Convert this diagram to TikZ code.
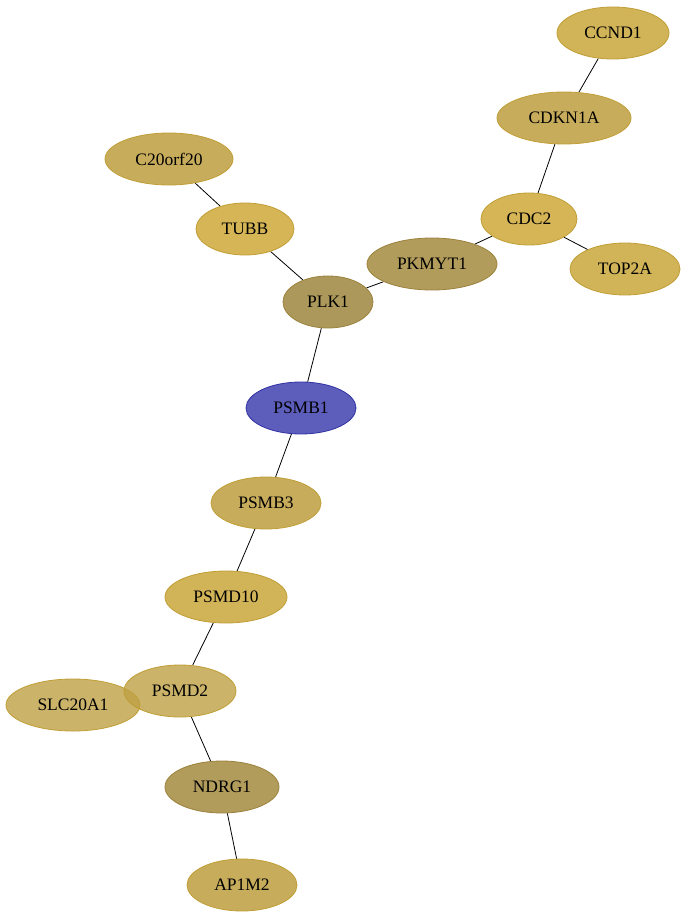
\documentclass[tikz,border=0pt]{standalone}
\usepackage{fontspec}
\setmainfont{Liberation Serif}
\usetikzlibrary{shapes,positioning}
\pgfdeclarelayer{background}
\pgfsetlayers{background,main}
\definecolor{goldA}{RGB}{209,179,88}
\definecolor{goldB}{RGB}{199,172,92}
\definecolor{goldC}{RGB}{213,181,86}
\definecolor{goldD}{RGB}{190,160,68}
\definecolor{oliveA}{RGB}{178,156,92}
\definecolor{oliveB}{RGB}{171,152,90}
\definecolor{goldline}{RGB}{192,158,52}
\definecolor{oliveline}{RGB}{155,130,60}
\definecolor{blueA}{RGB}{93,93,188}
\definecolor{blueline}{RGB}{50,50,165}

\begin{document}
\begin{tikzpicture}[x=1pt, y=-1pt,
        gene/.style = {ellipse, draw=goldline, line width=0.8pt, text opacity=1, inner sep=0pt, font=\fontsize{17.5}{20}\selectfont, minimum height=52pt},
        link/.style = {draw=black, line width=0.8pt}]
        \useasboundingbox (0,0) rectangle (687,920);
        \node [gene, fill=goldA, minimum width=112pt] (ccnd1) at (613,33) {CCND1};
        \node [gene, fill=goldB, minimum width=134pt] (cdkn1a) at (564,118) {CDKN1A};
        \node [gene, fill=goldC, minimum width=96pt] (cdc2) at (529,219) {CDC2};
        \node [gene, fill=goldA, minimum width=110pt] (top2a) at (625,269) {TOP2A};
        \node [gene, fill=oliveA, draw=oliveline, minimum width=130pt] (pkmyt1) at (432,264) {PKMYT1};
        \node [gene, fill=goldB, minimum width=128pt] (c20orf20) at (169,159) {C20orf20};
        \node [gene, fill=goldC, minimum width=98pt] (tubb) at (245,229) {TUBB};
        \node [gene, fill=oliveB, draw=oliveline, minimum width=90pt] (plk1) at (328,302) {PLK1};
        \node [gene, fill=blueA, draw=blueline, minimum width=110pt] (psmb1) at (301,408) {PSMB1};
        \node [gene, fill=goldB, minimum width=110pt] (psmb3) at (266,503) {PSMB3};
        \node [gene, fill=goldA, minimum width=122pt] (psmd10) at (226,597) {PSMD10};
        \node [gene, fill=goldD, fill opacity=0.8, minimum width=134pt] (slc20a1) at (73,705) {SLC20A1};
        \node [gene, fill=goldD, fill opacity=0.8, minimum width=112pt] (psmd2) at (180,691) {PSMD2};
        \node [gene, fill=oliveA, draw=oliveline, minimum width=114pt] (ndrg1) at (222,787) {NDRG1};
        \node [gene, fill=goldB, minimum width=110pt] (ap1m2) at (242,885) {AP1M2};
        % edges
        \begin{pgfonlayer}{background}
        \draw [link] (ccnd1) -- (cdkn1a);
        \draw [link] (cdkn1a) -- (cdc2);
        \draw [link] (cdc2) -- (top2a);
        \draw [link] (cdc2) -- (pkmyt1);
        \draw [link] (pkmyt1) -- (plk1);
        \draw [link] (c20orf20) -- (tubb);
        \draw [link] (tubb) -- (plk1);
        \draw [link] (plk1) -- (psmb1);
        \draw [link] (psmb1) -- (psmb3);
        \draw [link] (psmb3) -- (psmd10);
        \draw [link] (psmd10) -- (psmd2);
        \draw [link] (psmd2) -- (ndrg1);
        \draw [link] (ndrg1) -- (ap1m2);
        \end{pgfonlayer}
      \end{tikzpicture}
\end{document}
